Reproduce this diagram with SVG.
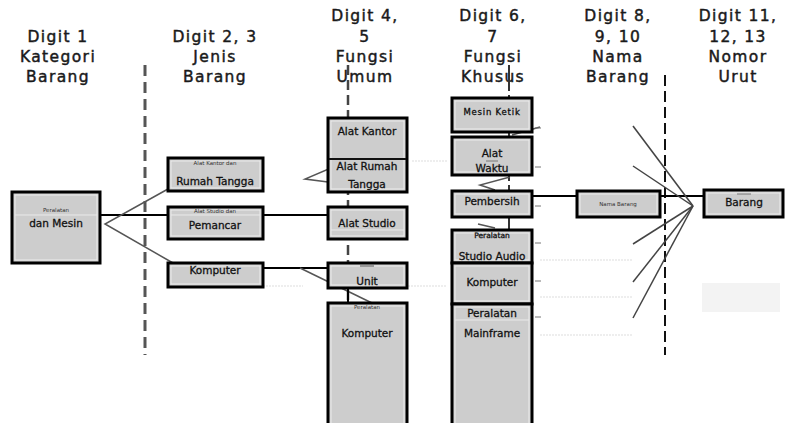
<svg xmlns="http://www.w3.org/2000/svg" width="785" height="423" viewBox="0 0 785 423">
<style>
.hd{font-family:"DejaVu Sans",sans-serif;font-size:15.5px;letter-spacing:1.4px;fill:#1a1a1a;stroke:#1a1a1a;stroke-width:0.45;text-anchor:middle}
.bx{fill:#cdcdcd;stroke:#000;stroke-width:3}
.in{fill:none;stroke:#ececec;stroke-width:1}
.dv{stroke:#111;stroke-width:2}
.lt{stroke:#eaeaea;stroke-width:1}
.t{font-family:"DejaVu Sans",sans-serif;font-size:10.5px;fill:#111;stroke:#111;stroke-width:0.3;text-anchor:middle}
.s{font-family:"DejaVu Sans",sans-serif;font-size:5.5px;fill:#333;text-anchor:middle}
.k{stroke:#000;stroke-width:2;fill:none}
.g{stroke:#555;stroke-width:1.5;fill:none}
.f{stroke:#ddd;stroke-width:1;stroke-dasharray:2 1}
</style>
<rect width="785" height="423" fill="#fff"/>
<g id="headers">
<text class="hd" x="58" y="42">Digit 1</text>
<text class="hd" x="58" y="62">Kategori</text>
<text class="hd" x="58" y="82">Barang</text>
<text class="hd" x="215" y="42">Digit 2, 3</text>
<text class="hd" x="215" y="62">Jenis</text>
<text class="hd" x="215" y="82">Barang</text>
<text class="hd" x="365" y="21">Digit 4,</text>
<text class="hd" x="365" y="42">5</text>
<text class="hd" x="365" y="62">Fungsi</text>
<text class="hd" x="365" y="82">Umum</text>
<text class="hd" x="493" y="21">Digit 6,</text>
<text class="hd" x="493" y="42">7</text>
<text class="hd" x="493" y="62">Fungsi</text>
<text class="hd" x="493" y="82">Khusus</text>
<text class="hd" x="618" y="21">Digit 8,</text>
<text class="hd" x="618" y="42">9, 10</text>
<text class="hd" x="618" y="62">Nama</text>
<text class="hd" x="618" y="82">Barang</text>
<text class="hd" x="738" y="21">Digit 11,</text>
<text class="hd" x="738" y="42">12, 13</text>
<text class="hd" x="738" y="62">Nomor</text>
<text class="hd" x="738" y="82">Urut</text>
</g>
<g id="connectors">
<line x1="145" y1="65" x2="145" y2="355" stroke="#555" stroke-width="3" stroke-dasharray="11 6"/>
<line x1="348" y1="65" x2="348" y2="303" stroke="#444" stroke-width="2.5" stroke-dasharray="10 5"/>
<line x1="509" y1="65" x2="509" y2="304" stroke="#333" stroke-width="2" stroke-dasharray="26 4"/>
<line x1="665" y1="75" x2="665" y2="355" stroke="#111" stroke-width="2" stroke-dasharray="11 5"/>
<line class="f" x1="263" y1="286" x2="303" y2="286"/>
<line class="f" x1="408" y1="286" x2="447" y2="286"/>
<line class="f" x1="412" y1="161" x2="447" y2="161"/>
<line class="f" x1="540" y1="260" x2="633" y2="260"/>
<line class="f" x1="540" y1="297" x2="633" y2="297"/>
<line class="f" x1="540" y1="335" x2="633" y2="335"/>
<rect x="702" y="283" width="78" height="29" fill="#f3f3f3"/>
<line class="k" x1="100" y1="215" x2="330" y2="215"/>
<polyline class="g" points="168,189 105,224 173,263"/>
<line class="k" x1="263" y1="268" x2="328" y2="268"/>
<line class="g" x1="300" y1="268" x2="372" y2="303"/>
<polyline class="g" points="352,159 305,179 328,182"/>
<line class="k" x1="348" y1="288" x2="348" y2="303"/>
<line class="k" x1="532" y1="196" x2="577" y2="196"/>
<line class="k" x1="660" y1="196" x2="704" y2="196"/>
<polyline class="g" points="510,177 480,185 495,190"/>
<line class="g" x1="512" y1="135" x2="540" y2="127"/>
<line class="g" x1="478" y1="224" x2="495" y2="228"/>
<g stroke="#777" stroke-width="1">
<line x1="535" y1="128" x2="541" y2="128"/>
<line x1="535" y1="167" x2="541" y2="167"/>
<line x1="535" y1="206" x2="541" y2="206"/>
<line x1="535" y1="243" x2="541" y2="243"/>
<line x1="535" y1="281" x2="541" y2="281"/>
<line x1="535" y1="317" x2="541" y2="317"/>
</g>
<g stroke="#444" stroke-width="1.5">
<line x1="693" y1="206" x2="633" y2="126"/>
<line x1="693" y1="206" x2="633" y2="166"/>
<line x1="693" y1="206" x2="633" y2="244"/>
<line x1="693" y1="206" x2="633" y2="282"/>
<line x1="693" y1="206" x2="633" y2="318"/>
</g>
</g>
<g id="n-peralatan-mesin">
<rect class="bx" x="12" y="192" width="88" height="71"/>
<rect class="in" x="15" y="195" width="82" height="65"/>
<line class="lt" x1="15" y1="215" x2="97" y2="215"/>
<text class="s" x="56" y="212">Peralatan</text>
<text class="t" x="56" y="227">dan Mesin</text>
</g>
<g id="n-kantor-rumah">
<rect class="bx" x="168" y="158" width="95" height="33"/>
<rect class="in" x="171" y="161" width="89" height="27"/>
<text class="s" x="215" y="165">Alat Kantor dan</text>
<text class="t" x="215" y="185">Rumah Tangga</text>
</g>
<g id="n-studio-pemancar">
<rect class="bx" x="168" y="207" width="95" height="32"/>
<rect class="in" x="171" y="210" width="89" height="26"/>
<line class="lt" x1="171" y1="215" x2="260" y2="215"/>
<text class="s" x="215" y="213">Alat Studio dan</text>
<text class="t" x="215" y="229">Pemancar</text>
</g>
<g id="n-komputer-jenis">
<rect class="bx" x="168" y="263" width="95" height="24"/>
<rect class="in" x="171" y="266" width="89" height="18"/>
<text class="t" x="215" y="274">Komputer</text>
</g>
<g id="n-alat-kantor">
<rect class="bx" x="328" y="118" width="79" height="74"/>
<rect class="in" x="331" y="121" width="73" height="68"/>
<line class="dv" x1="329" y1="159" x2="406" y2="159"/>
<text class="t" x="367" y="135">Alat Kantor</text>
<text class="t" x="367" y="170">Alat Rumah</text>
<text class="t" x="367" y="188">Tangga</text>
</g>
<g id="n-alat-studio">
<rect class="bx" x="328" y="207" width="79" height="32"/>
<rect class="in" x="331" y="210" width="73" height="26"/>
<line class="lt" x1="331" y1="230" x2="404" y2="230"/>
<text class="t" x="367" y="227">Alat Studio</text>
</g>
<g id="n-unit">
<rect class="bx" x="328" y="263" width="79" height="25"/>
<rect class="in" x="331" y="266" width="73" height="19"/>
<line x1="360" y1="266" x2="374" y2="266" stroke="#555" stroke-width="1"/>
<text class="t" x="367" y="285">Unit</text>
</g>
<g id="n-komputer-umum">
<rect class="bx" x="328" y="303" width="79" height="124"/>
<rect class="in" x="331" y="306" width="73" height="118"/>
<text class="s" x="367" y="309">Peralatan</text>
<text class="t" x="367" y="337">Komputer</text>
</g>
<g id="n-mesin-ketik">
<rect class="bx" x="452" y="98" width="80" height="34"/>
<rect class="in" x="455" y="101" width="74" height="28"/>
<text class="t" x="492" y="115" style="font-size:8.5px;letter-spacing:0.8px">Mesin Ketik</text>
</g>
<g id="n-alat-waktu">
<rect class="bx" x="452" y="137" width="80" height="38"/>
<rect class="in" x="455" y="140" width="74" height="32"/>
<line x1="486" y1="161" x2="498" y2="161" stroke="#777" stroke-width="1"/>
<text class="t" x="492" y="157">Alat</text>
<text class="t" x="492" y="172">Waktu</text>
</g>
<g id="n-pembersih">
<rect class="bx" x="452" y="191" width="80" height="26"/>
<rect class="in" x="455" y="194" width="74" height="20"/>
<text class="t" x="492" y="205">Pembersih</text>
</g>
<g id="n-studio-audio">
<rect class="bx" x="452" y="230" width="80" height="33"/>
<rect class="in" x="455" y="233" width="74" height="27"/>
<text class="t" x="492" y="238" style="font-size:7.5px">Peralatan</text>
<text class="t" x="492" y="260">Studio Audio</text>
</g>
<g id="n-komputer-khusus">
<rect class="bx" x="452" y="263" width="80" height="41"/>
<rect class="in" x="455" y="266" width="74" height="35"/>
<text class="t" x="492" y="286">Komputer</text>
</g>
<g id="n-mainframe">
<rect class="bx" x="452" y="304" width="80" height="124"/>
<rect class="in" x="455" y="307" width="74" height="118"/>
<line class="lt" x1="455" y1="320" x2="529" y2="320"/>
<text class="t" x="492" y="317">Peralatan</text>
<text class="t" x="492" y="337">Mainframe</text>
</g>
<g id="n-nama-barang">
<rect class="bx" x="577" y="191" width="83" height="26"/>
<rect class="in" x="580" y="194" width="77" height="20"/>
<text class="s" x="618" y="206">Nama Barang</text>
</g>
<g id="n-barang">
<rect class="bx" x="704" y="190" width="79" height="27"/>
<rect class="in" x="707" y="193" width="73" height="21"/>
<line x1="737" y1="194" x2="751" y2="194" stroke="#777" stroke-width="1"/>
<text class="t" x="744" y="206">Barang</text>
</g>
</svg>
